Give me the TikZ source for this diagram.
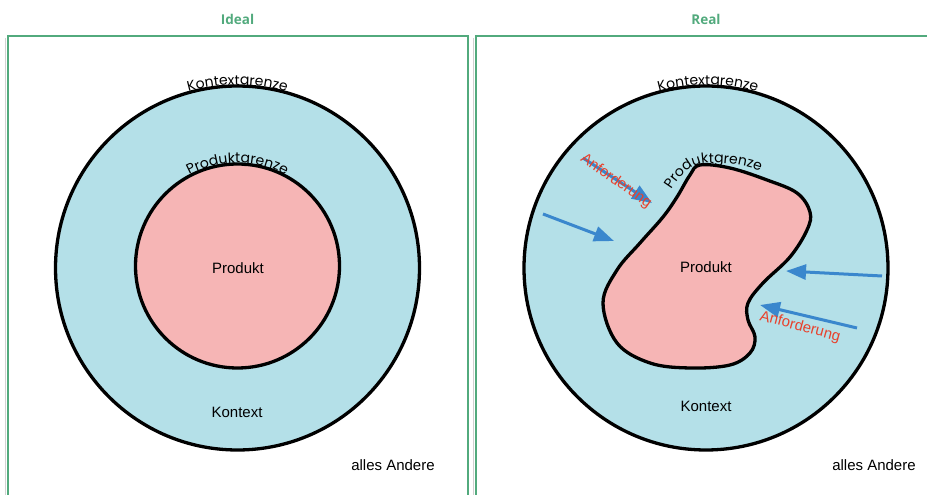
\documentclass[tikz,border=0pt]{standalone}
\usepackage{fontspec}
\setmainfont{Liberation Sans}
\newfontfamily\popfont{Poppins}
\newfontfamily\titfont{Open Sans}
\usetikzlibrary{arrows.meta,decorations.text}
\definecolor{frameg}{RGB}{82,170,125}
\definecolor{ctxblue}{RGB}{180,224,232}
\definecolor{prodpink}{RGB}{246,181,181}
\definecolor{arrblue}{RGB}{58,135,205}
\definecolor{reqred}{RGB}{232,65,44}
\tikzset{
  panel/.style={draw=frameg, line width=2pt},
  pshadow/.style={draw=black!18, line width=1.5pt},
  title/.style={text=frameg, font=\titfont\bfseries\fontsize{13.5}{16}\selectfont},
  lbl/.style={font=\fontsize{15}{18}\selectfont},
  ctx/.style={circle, draw=black, line width=3.3pt, fill=ctxblue, inner sep=0pt, minimum size=364pt},
  prod/.style={draw=black, line width=3.3pt, fill=prodpink},
  req/.style={draw=arrblue, line width=3pt, -{Triangle[length=20pt,width=15pt]}},
  reqtext/.style={text=reqred, font=\fontsize{15}{18}\selectfont},
  grenze/.style={decorate, decoration={text along path, text align=center,
      text={|\popfont\fontsize{14}{16}\selectfont|#1}}}
}
\begin{document}
\begin{tikzpicture}[x=1pt,y=1pt]
\useasboundingbox (0,0) rectangle (927,495);
\clip (0,0) rectangle (927,495);
% panels
\draw[pshadow] (5.5,-10) -- (5.5,457);
\draw[pshadow] (473.5,-10) -- (473.5,457);
\draw[panel] (8,-10) rectangle (468,459);
\draw[panel] (476,-10) rectangle (945,459);
\node[title] (tIdeal) at (237.5,476) {Ideal};
\node[title] (tReal) at (706,476) {Real};
% ideal
\node[ctx] (ctxL) at (237.5,227) {};
\node[circle, draw=black, line width=3.3pt, fill=prodpink, inner sep=0pt, minimum size=204pt] (prodL) at (237.5,229) {};
\path[grenze=Kontextgrenze] (237.5,227) ++(125:183) arc[start angle=125,end angle=55,radius=183];
\path[grenze=Produktgrenze] (237.5,229) ++(135:103) arc[start angle=135,end angle=45,radius=103];
\node[lbl] (pL) at (238,227) {Produkt};
\node[lbl] (kL) at (237,83) {Kontext};
\node[lbl] (aL) at (393,30) {alles Andere};
% real
\node[ctx] (ctxR) at (706,227) {};
\path[grenze=Kontextgrenze] (708,227) ++(125:183) arc[start angle=125,end angle=55,radius=183];
\draw[prod] plot[smooth cycle, tension=0.6] coordinates {
 (700,330) (730,327) (767,315) (797,302) (810,283) (807,265) (790,238)
 (763,212) (748,192) (748,175) (755,158) (750,142) (730,130) (690,127)
 (650,132) (617,152) (603,192) (617,225) (640,252) (663,278) (677,298) (690,320)};
\path[decorate, decoration={text along path, text align=center,
      text={|\popfont\fontsize{14}{16}\selectfont|Produktgrenze}}]
  (666,297) .. controls (681,322) and (690,332) .. (712,332) .. controls (735,332) and (752,328) .. (770,320);
\node[lbl] (pR) at (706,228) {Produkt};
\node[lbl] (kR) at (706,89) {Kontext};
\node[lbl] (aR) at (874,30) {alles Andere};
% requirements
\coordinate (a1s) at (543,281);
\coordinate (a1e) at (614,254);
\coordinate (a2s) at (583,337);
\coordinate (a2e) at (652,292);
\coordinate (a3s) at (882,219);
\coordinate (a3e) at (786,224);
\coordinate (a4s) at (857,167);
\coordinate (a4e) at (760,190);
\draw[req] (a1s) -- (a1e);
\draw[req] (a2s) -- (a2e);
\draw[req] (a3s) -- (a3e);
\draw[req] (a4s) -- (a4e);
\node[reqtext, rotate=-35] (r1) at (616,314) {Anforderung};
\node[reqtext, rotate=-15] (r2) at (800,168) {Anforderung};
\end{tikzpicture}
\end{document}
